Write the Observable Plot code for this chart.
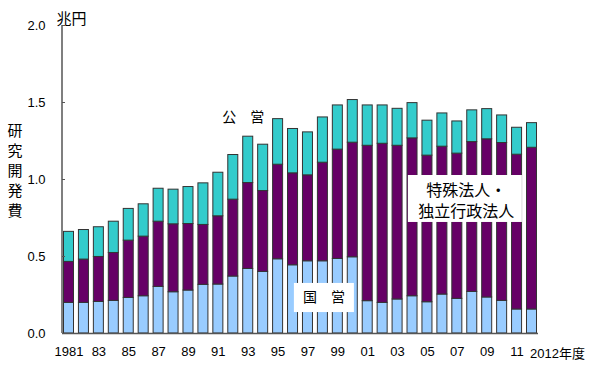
<!DOCTYPE html>
<html><head><meta charset="utf-8">
<script src="https://cdn.jsdelivr.net/npm/d3@7"></script>
<script src="https://cdn.jsdelivr.net/npm/@observablehq/plot@0.6"></script>
<style>
body{margin:0;background:#fff;}
</style>
</head><body><div id="chart"></div>
<script>
const years = [1981,1982,1983,1984,1985,1986,1987,1988,1989,1990,1991,1992,1993,1994,1995,1996,1997,1998,1999,2000,2001,2002,2003,2004,2005,2006,2007,2008,2009,2010,2011,2012];
// 国営
const kokuei = [0.199,0.199,0.205,0.212,0.231,0.242,0.303,0.268,0.279,0.316,0.318,0.370,0.419,0.400,0.482,0.443,0.469,0.469,0.484,0.495,0.210,0.199,0.221,0.242,0.203,0.253,0.225,0.270,0.234,0.212,0.156,0.156];
// 特殊法人・独立行政法人
const tokushu = [0.266,0.281,0.292,0.311,0.372,0.387,0.423,0.441,0.432,0.389,0.443,0.499,0.558,0.525,0.614,0.597,0.558,0.640,0.710,0.744,1.009,1.033,0.998,1.025,0.952,0.960,0.943,0.973,1.027,1.025,1.005,1.050];
// 公営
const kouei = [0.195,0.192,0.193,0.203,0.206,0.210,0.214,0.225,0.240,0.270,0.283,0.290,0.301,0.301,0.296,0.288,0.279,0.294,0.287,0.277,0.262,0.249,0.240,0.229,0.227,0.216,0.209,0.206,0.196,0.179,0.175,0.160];

const seriesNames = ["国営","特殊法人・独立行政法人","公営"];
const seriesColors = ["#99ccff","#660066","#33cccc"];
const yTicks = [0,0.5,1,1.5,2];
const xTickYears = [1981,1983,1985,1987,1989,1991,1993,1995,1997,1999,2001,2003,2005,2007,2009,2011];
const lastLabel = "2012年度";
const unitLabel = "兆円";
const yTitle = "研究開発費";
const labelKokuei = "国　営";
const labelKouei = "公　営";
const labelTokushu1 = "特殊法人・";
const labelTokushu2 = "独立行政法人";

const rows = [];
years.forEach((yr,i)=>{
  rows.push({year:yr, series:seriesNames[0], value:kokuei[i]});
  rows.push({year:yr, series:seriesNames[1], value:tokushu[i]});
  rows.push({year:yr, series:seriesNames[2], value:kouei[i]});
});

const jp = "'Noto Sans CJK JP', sans-serif";
const chart = Plot.plot({
  width:600, height:371,
  marginLeft:62, marginRight:62, marginTop:25, marginBottom:38,
  style:{fontFamily:"'Liberation Sans', Arial, 'Noto Sans CJK JP', sans-serif", fontSize:"13px", color:"#000", background:"#fff"},
  x:{type:"band", domain:years, paddingInner:0.33, paddingOuter:0.1, round:false, label:null, axis:null},
  y:{domain:[0,2], label:null, axis:null},
  color:{domain:seriesNames, range:seriesColors},
  marks:[
    Plot.barY(rows, {x:"year", y:"value", fill:"series", stroke:"#333", strokeWidth:1, order:seriesNames}),
    Plot.ruleY([0], {stroke:"#555", strokeWidth:1.5}),
    Plot.axisY({ticks:yTicks, tickSize:3, dx:3, stroke:"#555", tickFormat:()=>"", label:null}),
    Plot.axisY({ticks:yTicks, tickSize:0, tickPadding:17, tickFormat:d=>d.toFixed(1), fontSize:13, label:null}),
    Plot.axisX({ticks:xTickYears, tickSize:0, tickPadding:13, fontSize:13, label:null,
      tickFormat:d=> d===1981 ? "1981" : String(d%100).padStart(2,"0")}),
    Plot.text([lastLabel], {x:()=>2012, y:()=>0, text:d=>d, textAnchor:"start", dx:-2, dy:20, fontSize:13}),
    // white label boxes
    Plot.barY([0], {x:()=>1998, y1:()=>0.136, y2:()=>0.325, fill:"white", insetLeft:-23.5, insetRight:-26.5}),
    Plot.barY([0], {x:()=>2006, y1:()=>0.721, y2:()=>1.026, fill:"white", insetLeft:-29, insetRight:-75}),
    Plot.text([labelKokuei], {x:()=>1998, y:()=>0.234, text:d=>d, dx:1, fontSize:14, fontFamily:jp}),
    Plot.text([labelTokushu1], {x:()=>2007, y:()=>0.928, text:d=>d, dx:9, fontSize:16, fontFamily:jp}),
    Plot.text([labelTokushu2], {x:()=>2007, y:()=>0.792, text:d=>d, dx:9, fontSize:16, fontFamily:jp}),
    Plot.text([labelKouei], {x:()=>1993, y:()=>1.40, text:d=>d, dx:-5, fontSize:14, fontFamily:jp}),
    Plot.text([unitLabel], {frameAnchor:"top-left", text:d=>d, dx:9, dy:-12.5, textAnchor:"middle", fontSize:15, fontFamily:jp}),
    Plot.text([yTitle.split("").join("\n")], {frameAnchor:"left", text:d=>d, dx:-47.5, dy:-10, textAnchor:"middle", lineHeight:1.33, fontSize:15, fontFamily:jp})
  ]
});
// left axis line, placed through the y scale
const ys = chart.scale("y");
d3.select(chart).append("line")
  .attr("x1", 62).attr("x2", 62)
  .attr("y1", ys.apply(0)).attr("y2", ys.apply(2))
  .attr("stroke", "#555").attr("stroke-width", 1.5);
document.getElementById("chart").appendChild(chart);
</script>
</body></html>
